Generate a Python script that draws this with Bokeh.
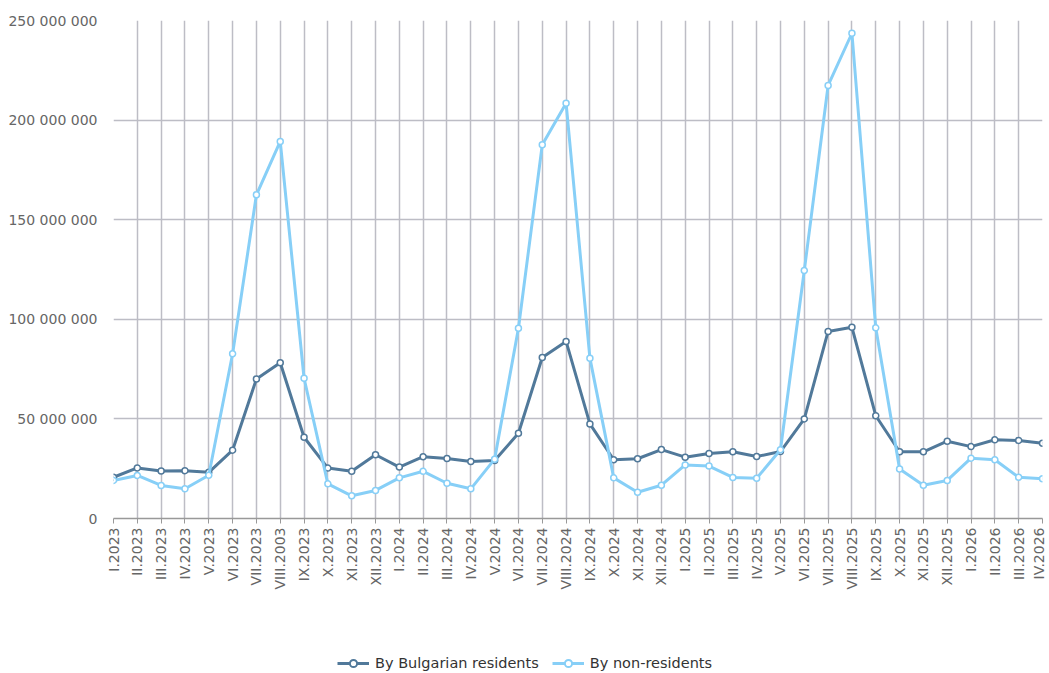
import math
from bokeh.plotting import figure
from bokeh.models import Range1d, Legend, LegendItem
from bokeh.layouts import column
from bokeh.embed import file_html
from bokeh.resources import INLINE

categories = [
    "I.2023", "II.2023", "III.2023", "IV.2023", "V.2023", "VI.2023", "VII.2023", "VIII.2003",
    "IX.2023", "X.2023", "XI.2023", "XII.2023",
    "I.2024", "II.2024", "III.2024", "IV.2024", "V.2024", "VI.2024", "VII.2024", "VIII.2024",
    "IX.2024", "X.2024", "XI.2024", "XII.2024",
    "I.2025", "II.2025", "III.2025", "IV.2025", "V.2025", "VI.2025", "VII.2025", "VIII.2025",
    "IX.2025", "X.2025", "XI.2025", "XII.2025",
    "I.2026", "II.2026", "III.2026", "IV.2026",
]

residents = [
    20.7e6, 25.4e6, 23.9e6, 24.0e6, 23.2e6, 34.3e6, 70.0e6, 78.2e6,
    40.8e6, 25.3e6, 23.7e6, 32.0e6,
    25.8e6, 31.0e6, 30.1e6, 28.6e6, 29.1e6, 42.8e6, 80.8e6, 88.9e6,
    47.5e6, 29.5e6, 30.0e6, 34.6e6,
    30.8e6, 32.6e6, 33.5e6, 31.1e6, 33.6e6, 50.0e6, 93.9e6, 96.0e6,
    51.6e6, 33.5e6, 33.5e6, 38.8e6,
    36.1e6, 39.5e6, 39.2e6, 37.8e6,
]

non_residents = [
    19.1e6, 21.6e6, 16.6e6, 14.9e6, 21.7e6, 82.7e6, 162.5e6, 189.3e6,
    70.4e6, 17.4e6, 11.4e6, 14.1e6,
    20.4e6, 23.7e6, 17.7e6, 14.9e6, 29.8e6, 95.5e6, 187.6e6, 208.5e6,
    80.5e6, 20.4e6, 13.2e6, 16.7e6,
    26.9e6, 26.3e6, 20.6e6, 20.2e6, 34.5e6, 124.5e6, 217.4e6, 243.6e6,
    95.7e6, 24.8e6, 16.7e6, 19.1e6,
    30.3e6, 29.5e6, 20.7e6, 19.9e6,
]

y_ticks = [0, 50e6, 100e6, 150e6, 200e6, 250e6]
y_tick_labels = ["0", "50 000 000", "100 000 000", "150 000 000", "200 000 000", "250 000 000"]

series_names = ["By Bulgarian residents", "By non-residents"]
series_colors = ["#51799a", "#87cff7"]

FONT = "DejaVu Sans"
xs = list(range(len(categories)))

p = figure(
    width=1046, height=637,
    output_backend="svg", toolbar_location=None,
    x_range=Range1d(0, len(categories) - 1),
    y_range=Range1d(0, 250e6),
    min_border_left=113, min_border_right=4, min_border_top=20, min_border_bottom=119,
)
p.outline_line_color = None
p.background_fill_color = "white"
p.border_fill_color = "white"

# x axis
p.xaxis.ticker = xs
p.xaxis.major_label_overrides = {i: c for i, c in enumerate(categories)}
p.xaxis.major_label_orientation = math.pi / 2
p.xaxis.major_label_text_font = FONT
p.xaxis.major_label_text_font_size = "14px"
p.xaxis.major_label_text_color = "#666666"
p.xaxis.axis_line_color = "#999999"
p.xaxis.axis_line_width = 1.5
p.xaxis.major_tick_line_color = "#999999"
p.xaxis.major_tick_out = 5
p.xaxis.major_tick_in = 0
p.xaxis.minor_tick_line_color = None
p.xaxis.major_label_standoff = 4

# y axis
p.yaxis.ticker = y_ticks
p.yaxis.major_label_overrides = {t: l for t, l in zip(y_ticks, y_tick_labels)}
p.yaxis.major_label_text_font = FONT
p.yaxis.major_label_text_font_size = "14px"
p.yaxis.major_label_text_color = "#666666"
p.yaxis.axis_line_color = None
p.yaxis.major_tick_line_color = None
p.yaxis.minor_tick_line_color = None
p.yaxis.major_label_standoff = 10

p.xgrid.grid_line_color = "#bdbdc5"
p.xgrid.grid_line_width = 1.5
p.ygrid.grid_line_color = "#bdbdc5"
p.ygrid.grid_line_width = 1.5

for name, ys, color in zip(series_names, [residents, non_residents], series_colors):
    p.line(xs, ys, line_color=color, line_width=3)
    p.scatter(xs, ys, size=6, fill_color="white", line_color=color, line_width=1.5)

# legend strip below the chart
lf = figure(
    width=1046, height=35,
    output_backend="svg", toolbar_location=None,
    x_range=Range1d(0, 1), y_range=Range1d(0, 1),
    min_border=0,
)
lf.axis.visible = False
lf.grid.visible = False
lf.outline_line_color = None

items = []
for name, color in zip(series_names, series_colors):
    ln = lf.line([5, 6], [5, 6], line_color=color, line_width=3)
    sc = lf.scatter([5, 6], [5, 6], size=10, fill_color="white", line_color=color, line_width=2)
    items.append(LegendItem(label=name, renderers=[ln, sc]))

legend = Legend(
    items=items, orientation="horizontal",
    location=(224, 0),
    label_text_font=FONT, label_text_font_size="14.5px", label_text_color="#333333",
    glyph_width=32, glyph_height=18, label_height=16, label_standoff=6, spacing=13,
    padding=0, margin=0, border_line_color=None, background_fill_alpha=0,
)
lf.add_layout(legend, "center")

layout = column(p, lf, spacing=0)
open("out.html", "w").write(file_html(layout, INLINE))
